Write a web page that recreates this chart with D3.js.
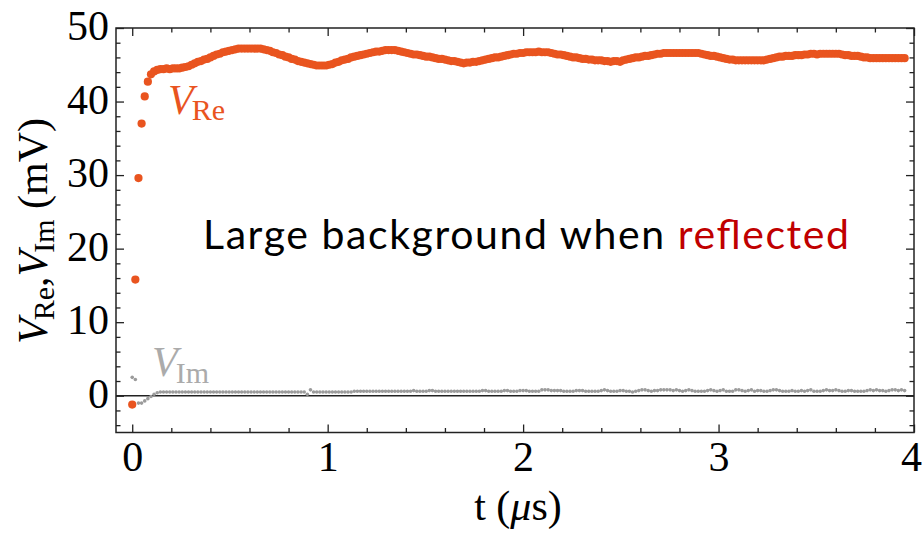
<!DOCTYPE html>
<html>
<head>
<meta charset="utf-8">
<script src="https://cdn.jsdelivr.net/npm/d3@7"></script>
<style>
  body { margin: 0; background: #fff; }
  svg { display: block; }
</style>
</head>
<body>
<div id="chart"></div>
<script>
// sampling step of the trace, in microseconds
var timeStep = 0.016

// V_Re (mV), one value per sample
var vRe = [
  -1.2, 15.8, 29.6, 37.0, 40.7, 42.7, 43.7, 44.1, 44.3, 44.4,
  44.4, 44.5, 44.4, 44.5, 44.5, 44.5, 44.6, 44.7, 44.8, 45.0,
  45.2, 45.4, 45.5, 45.7, 45.8, 46.0, 46.2, 46.4, 46.5, 46.7,
  46.8, 46.9, 47.0, 47.1, 47.2, 47.2, 47.2, 47.2, 47.2, 47.2,
  47.2, 47.2, 47.1, 47.0, 46.9, 46.7, 46.6, 46.4, 46.3, 46.1,
  46.0, 45.8, 45.7, 45.5, 45.4, 45.3, 45.2, 45.1, 45.0, 44.9,
  44.9, 44.9, 44.9, 45.0, 45.1, 45.3, 45.4, 45.6, 45.7, 45.8,
  46.0, 46.1, 46.2, 46.3, 46.4, 46.5, 46.6, 46.7, 46.8, 46.8,
  46.9, 47.0, 47.0, 47.0, 47.0, 46.9, 46.8, 46.7, 46.6, 46.5,
  46.4, 46.4, 46.3, 46.2, 46.1, 46.1, 46.0, 45.9, 45.8, 45.8,
  45.7, 45.6, 45.5, 45.5, 45.4, 45.3, 45.2, 45.3, 45.3, 45.4,
  45.4, 45.5, 45.6, 45.7, 45.8, 45.9, 46.0, 46.0, 46.1, 46.2,
  46.3, 46.4, 46.5, 46.5, 46.6, 46.6, 46.7, 46.7, 46.7, 46.7,
  46.8, 46.7, 46.7, 46.7, 46.6, 46.5, 46.4, 46.4, 46.3, 46.2,
  46.1, 46.0, 46.0, 45.9, 45.8, 45.8, 45.7, 45.7, 45.6, 45.6,
  45.6, 45.5, 45.5, 45.4, 45.5, 45.5, 45.4, 45.6, 45.7, 45.8,
  45.9, 46.0, 46.0, 46.1, 46.2, 46.2, 46.3, 46.4, 46.5, 46.5,
  46.6, 46.6, 46.6, 46.6, 46.6, 46.6, 46.6, 46.6, 46.6, 46.6,
  46.6, 46.6, 46.5, 46.4, 46.3, 46.2, 46.2, 46.1, 46.0, 45.9,
  45.8, 45.7, 45.7, 45.6, 45.6, 45.6, 45.6, 45.6, 45.6, 45.6,
  45.6, 45.6, 45.6, 45.7, 45.8, 45.9, 46.0, 46.1, 46.1, 46.2,
  46.2, 46.2, 46.3, 46.3, 46.3, 46.4, 46.4, 46.5, 46.5, 46.4,
  46.5, 46.5, 46.5, 46.5, 46.5, 46.5, 46.5, 46.4, 46.3, 46.3,
  46.2, 46.2, 46.2, 46.1, 46.0, 46.0, 45.9, 45.9, 45.9, 45.9,
  45.9, 45.9, 45.9, 45.9, 45.9, 45.9, 45.9, 45.9
]

// V_Im (mV), one value per sample
var vIm = [
  2.5, 2.2, -1.0, -1.0, -0.7, -0.4, -0.1, 0.2, 0.4, 0.5,
  0.5, 0.5, 0.5, 0.5, 0.5, 0.5, 0.5, 0.5, 0.5, 0.5,
  0.5, 0.5, 0.5, 0.5, 0.5, 0.5, 0.5, 0.5, 0.5, 0.5,
  0.5, 0.5, 0.5, 0.5, 0.5, 0.5, 0.5, 0.5, 0.5, 0.5,
  0.5, 0.5, 0.5, 0.5, 0.5, 0.5, 0.5, 0.5, 0.5, 0.5,
  0.5, 0.5, 0.5, 0.5, 0.5, 0.5, 0.2, 0.8, 0.5, 0.5,
  0.5, 0.5, 0.5, 0.5, 0.5, 0.5, 0.5, 0.5, 0.5, 0.5,
  0.5, 0.6, 0.6, 0.6, 0.6, 0.6, 0.6, 0.6, 0.6, 0.6,
  0.6, 0.6, 0.6, 0.6, 0.6, 0.6, 0.6, 0.6, 0.6, 0.6,
  0.7, 0.6, 0.6, 0.6, 0.6, 0.7, 0.7, 0.6, 0.6, 0.6,
  0.6, 0.6, 0.6, 0.6, 0.6, 0.6, 0.6, 0.6, 0.6, 0.6,
  0.6, 0.6, 0.7, 0.7, 0.6, 0.6, 0.6, 0.6, 0.6, 0.7,
  0.7, 0.6, 0.6, 0.6, 0.7, 0.7, 0.7, 0.6, 0.6, 0.6,
  0.6, 0.8, 0.8, 0.8, 0.7, 0.7, 0.7, 0.7, 0.6, 0.6,
  0.6, 0.6, 0.7, 0.7, 0.7, 0.6, 0.6, 0.6, 0.6, 0.6,
  0.7, 0.8, 0.7, 0.6, 0.6, 0.6, 0.7, 0.7, 0.6, 0.6,
  0.5, 0.6, 0.7, 0.8, 0.8, 0.7, 0.6, 0.7, 0.7, 0.8,
  0.8, 0.8, 0.8, 0.7, 0.8, 0.7, 0.6, 0.7, 0.8, 0.7,
  0.6, 0.6, 0.6, 0.6, 0.7, 0.8, 0.7, 0.6, 0.7, 0.8,
  0.6, 0.6, 0.6, 0.8, 0.8, 0.7, 0.6, 0.7, 0.8, 0.6,
  0.7, 0.7, 0.6, 0.6, 0.7, 0.8, 0.8, 0.7, 0.6, 0.6,
  0.6, 0.7, 0.6, 0.6, 0.7, 0.6, 0.7, 0.8, 0.6, 0.6,
  0.6, 0.7, 0.8, 0.7, 0.7, 0.8, 0.7, 0.6, 0.6, 0.7,
  0.7, 0.6, 0.6, 0.6, 0.6, 0.7, 0.8, 0.7, 0.8, 0.7,
  0.7, 0.6, 0.7, 0.8, 0.8, 0.7, 0.8, 0.7
]

var xMajor = [0, 1, 2, 3, 4]
var yMajor = [0, 10, 20, 30, 40, 50]

var width = 923, height = 535
var orange = '#e9541f', gray = '#9b9b9b'
var serif = '"Liberation Serif", "Times New Roman", serif'

var x = d3.scaleLinear().domain([-0.083, 4]).range([116, 914])
var y = d3.scaleLinear().domain([-5, 50]).range([432.5, 28])

var svg = d3.select('#chart').append('svg')
  .attr('width', width)
  .attr('height', height)

var xMinor = d3.range(0, 4.001, 0.2).filter(d => Math.abs(d - Math.round(d)) > 1e-6)
var yMinor = d3.range(-4, 50, 2).filter(d => d % 10 != 0)

function styleAxis(g){
  g.select('.domain').remove()
  g.selectAll('line').attr('stroke', '#222').attr('stroke-width', 1.3)
  g.selectAll('text')
    .attr('font-family', serif)
    .attr('font-size', 42)
    .attr('fill', '#000')
}

// bottom
svg.append('g').attr('transform', 'translate(0,' + y.range()[0] + ')')
  .call(d3.axisBottom(x).tickValues(xMajor).tickSize(-8).tickPadding(8).tickFormat(d3.format('d')))
  .call(styleAxis)
  .selectAll('text').attr('dy', '0.72em')
  .attr('dx', d => d == 4 ? -3 : 0)   // keep the last label inside the window
svg.append('g').attr('transform', 'translate(0,' + y.range()[0] + ')')
  .call(d3.axisBottom(x).tickValues(xMinor).tickSize(-4.5).tickFormat(''))
  .call(styleAxis)
// top
svg.append('g').attr('transform', 'translate(0,' + y.range()[1] + ')')
  .call(d3.axisTop(x).tickValues(xMajor).tickSize(-8).tickFormat(''))
  .call(styleAxis)
svg.append('g').attr('transform', 'translate(0,' + y.range()[1] + ')')
  .call(d3.axisTop(x).tickValues(xMinor).tickSize(-4.5).tickFormat(''))
  .call(styleAxis)
// left
svg.append('g').attr('transform', 'translate(' + x.range()[0] + ',0)')
  .call(d3.axisLeft(y).tickValues(yMajor).tickSize(-8).tickPadding(7))
  .call(styleAxis)
  .selectAll('text').attr('dy', '0.28em')
svg.append('g').attr('transform', 'translate(' + x.range()[0] + ',0)')
  .call(d3.axisLeft(y).tickValues(yMinor).tickSize(-4.5).tickFormat(''))
  .call(styleAxis)
// right
svg.append('g').attr('transform', 'translate(' + x.range()[1] + ',0)')
  .call(d3.axisRight(y).tickValues(yMajor).tickSize(-8).tickFormat(''))
  .call(styleAxis)
svg.append('g').attr('transform', 'translate(' + x.range()[1] + ',0)')
  .call(d3.axisRight(y).tickValues(yMinor).tickSize(-4.5).tickFormat(''))
  .call(styleAxis)

// frame
svg.append('rect')
  .attr('x', x.range()[0]).attr('y', y.range()[1])
  .attr('width', x.range()[1] - x.range()[0])
  .attr('height', y.range()[0] - y.range()[1])
  .attr('fill', 'none').attr('stroke', '#222').attr('stroke-width', 1.5)

// zero line
svg.append('line')
  .attr('x1', x.range()[0]).attr('x2', x.range()[1])
  .attr('y1', y(0)).attr('y2', y(0))
  .attr('stroke', '#222').attr('stroke-width', 1.6)

// points
svg.append('g').selectAll('circle')
  .data(vIm).enter().append('circle')
  .attr('cx', (d, i) => x(i * timeStep))
  .attr('cy', d => y(d))
  .attr('r', 1.8)
  .attr('fill', gray)

svg.append('g').selectAll('circle')
  .data(vRe).enter().append('circle')
  .attr('cx', (d, i) => x(i * timeStep))
  .attr('cy', d => y(d))
  .attr('r', 4.1)
  .attr('fill', orange)

// series labels
var reLab = svg.append('text').attr('x', 168).attr('y', 114)
  .attr('font-family', serif).attr('fill', orange).attr('font-size', 42)
reLab.append('tspan').attr('font-style', 'italic').text('V')
reLab.append('tspan').attr('font-size', 30).attr('dx', -2).attr('dy', 6).text('Re')

var imLab = svg.append('text').attr('x', 152).attr('y', 376)
  .attr('font-family', serif).attr('fill', '#ababab').attr('font-size', 42)
imLab.append('tspan').attr('font-style', 'italic').text('V')
imLab.append('tspan').attr('font-size', 30).attr('dx', -2).attr('dy', 7).text('Im')

// axis titles
var yLab = svg.append('text')
  .attr('transform', 'translate(47,231) rotate(-90)')
  .attr('text-anchor', 'middle')
  .attr('font-family', serif).attr('font-size', 42).attr('fill', '#000')
yLab.append('tspan').attr('font-style', 'italic').text('V')
yLab.append('tspan').attr('font-size', 30).attr('dx', -2).attr('dy', 7).text('Re')
yLab.append('tspan').attr('dy', -7).text(',')
yLab.append('tspan').attr('font-style', 'italic').text('V')
yLab.append('tspan').attr('font-size', 30).attr('dx', -2).attr('dy', 7).text('Im')
yLab.append('tspan').attr('dy', -7).text(' (mV)')

var xLab = svg.append('text')
  .attr('x', 518).attr('y', 520)
  .attr('text-anchor', 'middle')
  .attr('font-family', serif).attr('font-size', 42).attr('fill', '#000')
xLab.append('tspan').text('t (')
xLab.append('tspan').attr('font-style', 'italic').text('\u03bc')
xLab.append('tspan').text('s)')

// annotation
var note = svg.append('text')
  .attr('x', 203).attr('y', 249)
  .attr('font-family', 'Lato, "Open Sans", sans-serif')
  .attr('font-size', 41)
  .attr('fill', '#000')
  .attr('textLength', 646)
  .attr('lengthAdjust', 'spacing')
note.append('tspan').text('Large background when ')
note.append('tspan').attr('fill', '#c00000').text('reflected')
</script>
</body>
</html>
